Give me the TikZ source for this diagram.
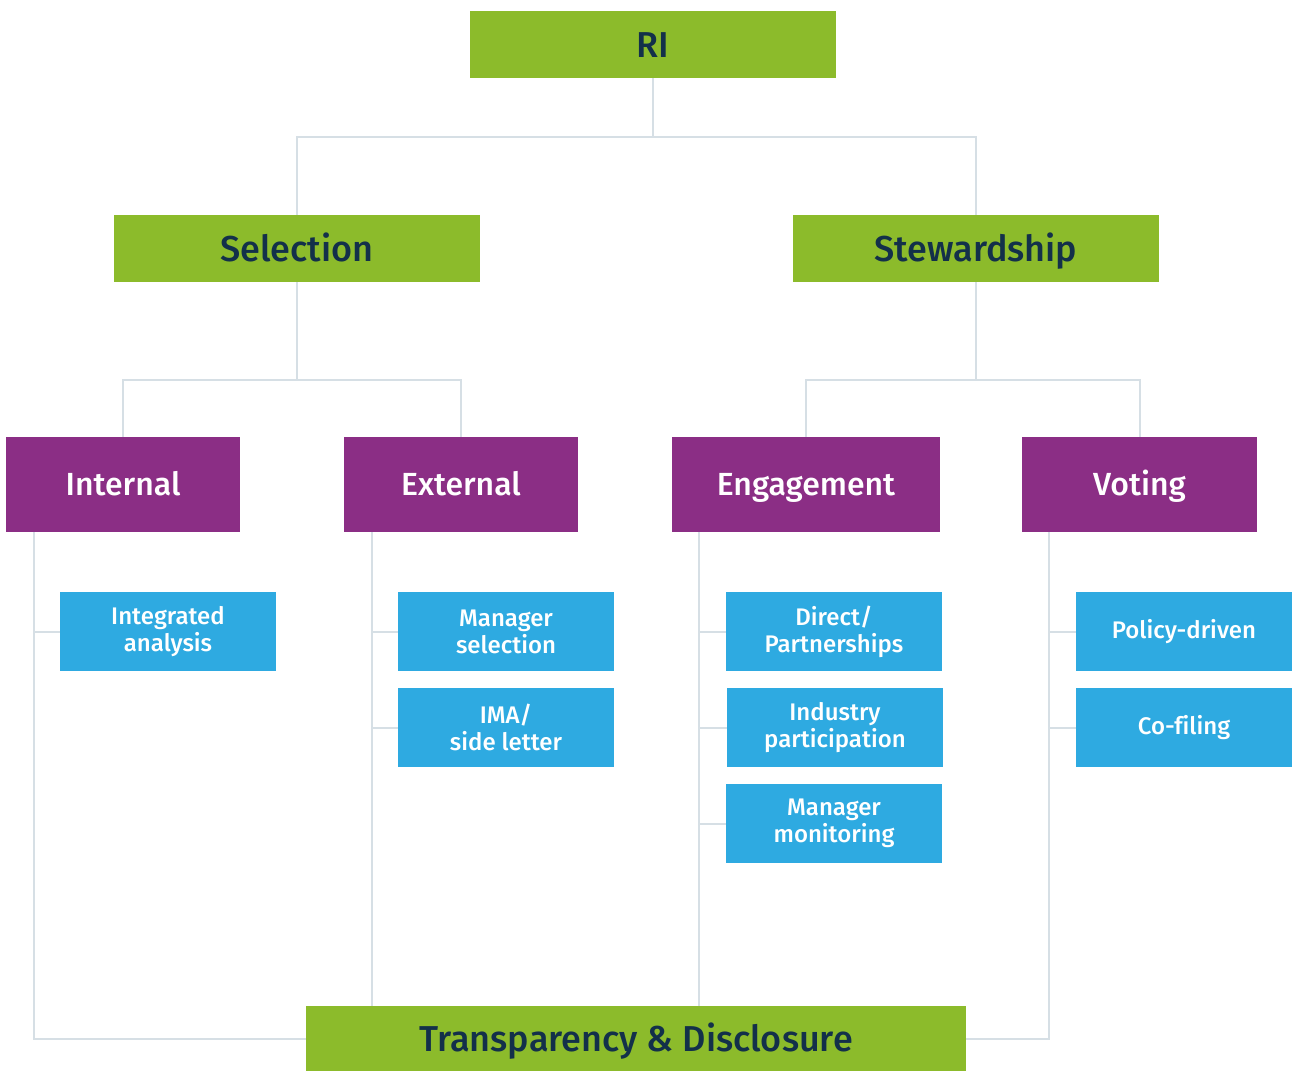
\documentclass[tikz,border=0pt]{standalone}
\usepackage{fontspec}
\setmainfont{Fira Sans Medium}[Ligatures=NoCommon]
\usetikzlibrary{backgrounds}
\definecolor{rigreen}{HTML}{8CBB2B}
\definecolor{ripurple}{HTML}{8B2E85}
\definecolor{riblue}{HTML}{2EAAE1}
\definecolor{rinavy}{HTML}{13304A}
\definecolor{riline}{HTML}{D6DFE5}
\begin{document}
\begin{tikzpicture}[x=0.75pt,y=-0.75pt,
  greenbox/.style={rectangle,fill=rigreen,text=rinavy,inner sep=0pt,minimum width=366*0.75pt,minimum height=67*0.75pt,text height=25pt,text depth=6pt,font=\fontsize{27}{30}\selectfont},
  purplebox/.style={rectangle,fill=ripurple,text=white,inner sep=0pt,minimum width=234*0.75pt,minimum height=95*0.75pt,text height=21.5pt,text depth=5pt,font=\fontsize{24}{28}\selectfont},
  bluebox/.style={rectangle,fill=riblue,text=white,inner sep=0pt,minimum width=216*0.75pt,minimum height=79*0.75pt,align=center,font=\fontsize{18}{20.25}\selectfont},
  conn/.style={draw=riline,line width=1.5pt}]
\useasboundingbox (0,0) rectangle (1293,1071);
\coordinate (j0) at (653,137);
\coordinate (jS) at (297,380);
\coordinate (jW) at (976,380);
\coordinate (iTop) at (34,532);
\coordinate (iBot) at (34,1039);
\coordinate (eTop) at (372,532);
\coordinate (eBot) at (372,1006);
\coordinate (gTop) at (699,532);
\coordinate (gBot) at (699,1006);
\coordinate (vTop) at (1049,532);
\coordinate (vBot) at (1049,1039);

\node[greenbox] (RI) at (653,44.5) {RI};
\node[greenbox] (Sel) at (297,248.5) {Selection};
\node[greenbox] (Stew) at (976,248.5) {Stewardship};
\node[purplebox] (Int) at (123,484.5) {Internal};
\node[purplebox] (Ext) at (461,484.5) {External};
\node[purplebox,minimum width=268*0.75pt] (Eng) at (806,484.5) {Engagement};
\node[purplebox,minimum width=235*0.75pt] (Vot) at (1139.5,484.5) {Voting};
\node[bluebox] (IA) at (168,631.5) {Integrated\\analysis};
\node[bluebox] (MS) at (506,631.5) {Manager\\selection};
\node[bluebox] (IMA) at (506,727.5) {IMA/\\side letter};
\node[bluebox] (DP) at (834,631.5) {Direct/\\Partnerships};
\node[bluebox] (IP) at (835,727.5) {Industry\\participation};
\node[bluebox] (MM) at (834,823.5) {Manager\\monitoring};
\node[bluebox] (PD) at (1184,631.5) {Policy-driven};
\node[bluebox] (CF) at (1184,727.5) {Co-filing};
\node[greenbox,minimum width=660*0.75pt,minimum height=65*0.75pt] (TD) at (636,1038.5) {Transparency \& Disclosure};

\begin{scope}[on background layer]
  % top levels
  \draw[conn] (RI.south) -- (j0);
  \draw[conn] (j0) -| (Sel.north);
  \draw[conn] (j0) -| (Stew.north);
  \draw[conn] (Sel.south) -- (jS);
  \draw[conn] (jS) -| (Int.north);
  \draw[conn] (jS) -| (Ext.north);
  \draw[conn] (Stew.south) -- (jW);
  \draw[conn] (jW) -| (Eng.north);
  \draw[conn] (jW) -| (Vot.north);
  % Internal
  \draw[conn] (iTop) -- (iBot) -- (iBot -| TD.west);
  \draw[conn] (iTop |- IA.west) -- (IA.west);
  % External
  \draw[conn] (eTop) -- (eBot);
  \draw[conn] (eTop |- MS.west) -- (MS.west);
  \draw[conn] (eTop |- IMA.west) -- (IMA.west);
  % Engagement
  \draw[conn] (gTop) -- (gBot);
  \draw[conn] (gTop |- DP.west) -- (DP.west);
  \draw[conn] (gTop |- IP.west) -- (IP.west);
  \draw[conn] (gTop |- MM.west) -- (MM.west);
  % Voting
  \draw[conn] (vTop) -- (vBot) -- (vBot -| TD.east);
  \draw[conn] (vTop |- PD.west) -- (PD.west);
  \draw[conn] (vTop |- CF.west) -- (CF.west);
\end{scope}
\end{tikzpicture}
\end{document}
